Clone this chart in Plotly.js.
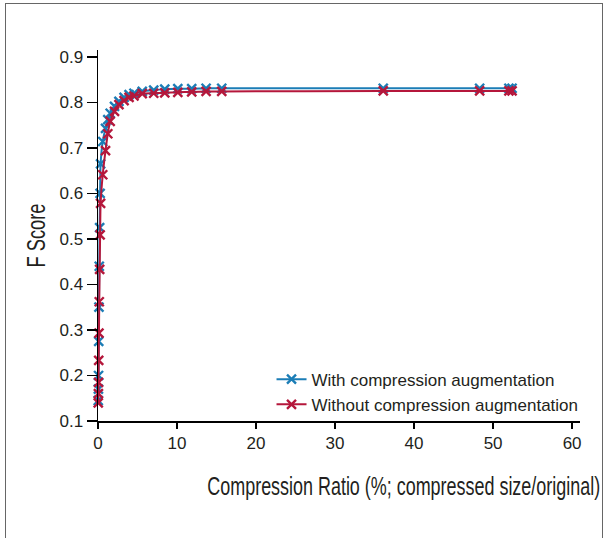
<!DOCTYPE html>
<html>
<head>
<meta charset="utf-8">
<script src="https://cdn.plot.ly/plotly-3.0.1.min.js"></script>
<style>
  html, body { margin: 0; padding: 0; background: #fff; }
  #wrap { position: relative; width: 608px; height: 538px; overflow: hidden; }
  #chart { width: 608px; height: 538px; }
  #frame { position: absolute; left: 5px; top: 3px; width: 596px; height: 560px;
           border: 1.5px solid #666; pointer-events: none; }
</style>
</head>
<body>
<div id="wrap">
  <div id="chart"></div>
  <div id="frame"></div>
</div>
<script>
// Compression ratio (%) — shared by both series
const compressionRatio = [0.03, 0.05, 0.07, 0.09, 0.12, 0.16, 0.21, 0.27, 0.33, 0.6, 0.95, 1.24, 1.54, 2.09, 2.65, 3.3, 3.93, 4.55, 5.6, 7.05, 8.45, 10.1, 11.86, 13.68, 15.66, 36.1, 48.3, 52.0, 52.4];
// F score with compression augmentation
const withAug = [0.145, 0.17, 0.2, 0.275, 0.35, 0.44, 0.525, 0.6, 0.665, 0.714, 0.743, 0.762, 0.776, 0.791, 0.802, 0.811, 0.817, 0.820, 0.824, 0.827, 0.829, 0.830, 0.830, 0.831, 0.831, 0.831, 0.831, 0.831, 0.831];
// F score without compression augmentation
const withoutAug = [0.14, 0.16, 0.185, 0.233, 0.293, 0.362, 0.433, 0.509, 0.578, 0.641, 0.694, 0.731, 0.758, 0.780, 0.795, 0.804, 0.811, 0.814, 0.819, 0.820, 0.821, 0.822, 0.823, 0.824, 0.824, 0.825, 0.825, 0.825, 0.825];

const seriesNames = ['With compression augmentation', 'Without compression augmentation'];
const xTickVals = [0, 10, 20, 30, 40, 50, 60];
const yTickVals = [0.1, 0.2, 0.3, 0.4, 0.5, 0.6, 0.7, 0.8, 0.9];
const xTitle = 'Compression Ratio (%; compressed size/original)';
const yTitle = 'F Score';

const BLUE = '#1b7db6';
const RED = '#b5173b';

function trace(y, name, color) {
  return {
    x: compressionRatio, y: y, name: name, type: 'scatter', mode: 'lines+markers',
    line: { color: color, width: 2, shape: 'spline', smoothing: 0.6 },
    marker: { symbol: 'x-thin', size: 9, line: { color: color, width: 2.4 }, color: color },
    cliponaxis: false
  };
}

const data = [
  trace(withAug, seriesNames[0], BLUE),
  trace(withoutAug, seriesNames[1], RED)
];

const axisFont = { family: 'Liberation Sans, Arial, sans-serif', size: 17, color: '#231f20' };
const titleFont = { family: 'Liberation Sans, Arial, sans-serif', size: 25, color: '#231f20' };

const layout = {
  width: 608, height: 538,
  margin: { l: 98, r: 27.5, t: 50, b: 117 },
  paper_bgcolor: '#fff', plot_bgcolor: '#fff',
  showlegend: true,
  legend: {
    x: 0.36, y: 0.16, xanchor: 'left', yanchor: 'top',
    font: { family: 'Liberation Sans, Arial, sans-serif', size: 17, color: '#231f20' },
    bgcolor: 'rgba(0,0,0,0)', tracegroupgap: 0, itemwidth: 30
  },
  xaxis: {
    range: [0, 61], tickvals: xTickVals, ticktext: xTickVals.map(String),
    showgrid: false, zeroline: false, showline: true, linecolor: '#000', linewidth: 1.5,
    ticks: 'outside', ticklen: 6, tickwidth: 1.5, tickcolor: '#000',
    tickfont: axisFont
  },
  yaxis: {
    range: [0.1, 0.915], tickvals: yTickVals, ticktext: yTickVals.map(v => v.toFixed(1)),
    showgrid: false, zeroline: false, showline: true, linecolor: '#000', linewidth: 1.5,
    ticks: 'outside', ticklen: 10, tickwidth: 1.5, tickcolor: '#000',
    tickfont: axisFont,
    title: { text: yTitle, font: titleFont, standoff: 6 }
  },
  annotations: [{
    text: xTitle,
    xref: 'paper', yref: 'paper', x: 0.634, y: -0.175, xanchor: 'center', yanchor: 'middle',
    showarrow: false, font: titleFont
  }]
};

// Narrow (condensed) look of the axis titles, as in the reference:
// squeeze each title along its reading direction around its own centre.
function condenseX(el, width) {
  if (!el) return;
  const bb = el.getBBox();
  const s = width / bb.width;
  const cx = bb.x + bb.width / 2;
  const prev = el.getAttribute('transform') || '';
  el.setAttribute('transform', `translate(${cx},0) scale(${s},1) translate(${-cx},0) ${prev}`);
}
function condenseY(el, height) {
  if (!el) return;
  const bb = el.getBBox();          // un-rotated box: width is the text length
  const s = height / bb.width;
  const y = parseFloat(el.getAttribute('y'));
  const prev = el.getAttribute('transform') || '';
  el.setAttribute('transform', `translate(0,${y}) scale(1,${s}) translate(0,${-y}) ${prev}`);
}

Plotly.newPlot('chart', data, layout, { displayModeBar: false, staticPlot: true }).then(gd => {
  condenseX(gd.querySelector('.annotation-text'), 393);
  condenseY(gd.querySelector('.ytitle'), 64);
});
</script>
</body>
</html>
